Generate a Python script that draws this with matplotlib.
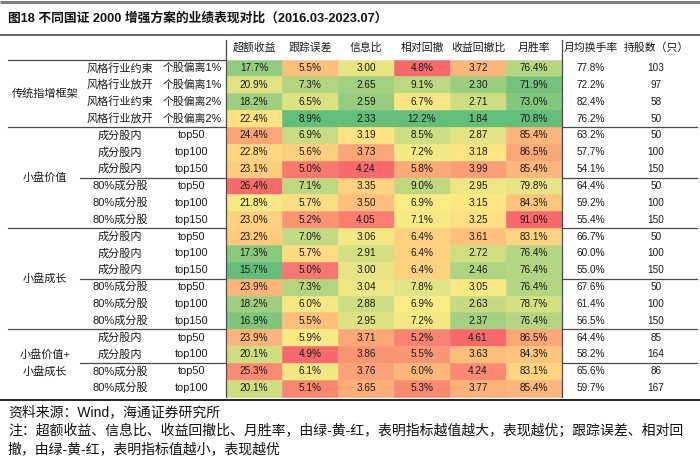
import numpy as np
import matplotlib
matplotlib.use("Agg")
import matplotlib.pyplot as plt
from matplotlib.colors import LinearSegmentedColormap, TwoSlopeNorm
from matplotlib.patches import Rectangle

plt.rcParams['font.family'] = ['Liberation Sans', 'Noto Sans CJK SC', 'DejaVu Sans']

title = "图18 不同国证 2000 增强方案的业绩表现对比（2016.03-2023.07）"
metric_headers = ["超额收益", "跟踪误差", "信息比", "相对回撤", "收益回撤比", "月胜率"]
extra_headers = ["月均换手率", "持股数（只）"]

groups = ["传统指增框架", "小盘价值", "小盘成长", "小盘价值+\n小盘成长"]
group_sizes = [4, 6, 6, 4]
subgroup_sizes = [[4], [3, 3], [3, 3], [2, 2]]

label1 = ["风格行业约束", "风格行业放开", "风格行业约束", "风格行业放开",
          "成分股内", "成分股内", "成分股内", "80%成分股", "80%成分股", "80%成分股",
          "成分股内", "成分股内", "成分股内", "80%成分股", "80%成分股", "80%成分股",
          "成分股内", "成分股内", "80%成分股", "80%成分股"]
label2 = ["个股偏离1%", "个股偏离1%", "个股偏离2%", "个股偏离2%",
          "top50", "top100", "top150", "top50", "top100", "top150",
          "top50", "top100", "top150", "top50", "top100", "top150",
          "top50", "top100", "top50", "top100"]

excess = [17.7, 20.9, 18.2, 22.4,
          24.4, 22.8, 23.1, 26.4, 21.8, 23.0,
          23.2, 17.3, 15.7, 23.9, 18.2, 16.9,
          23.9, 20.1, 25.3, 20.1]
tracking = [5.5, 7.3, 6.5, 8.9,
            6.9, 5.6, 5.0, 7.1, 5.7, 5.2,
            7.0, 5.7, 5.0, 7.3, 6.0, 5.5,
            5.9, 4.9, 6.1, 5.1]
info_ratio = [3.00, 2.65, 2.59, 2.33,
              3.19, 3.73, 4.24, 3.35, 3.50, 4.05,
              3.06, 2.91, 3.00, 3.04, 2.88, 2.95,
              3.71, 3.86, 3.76, 3.65]
drawdown = [4.8, 9.1, 6.7, 12.2,
            8.5, 7.2, 5.8, 9.0, 6.9, 7.1,
            6.4, 6.4, 6.4, 7.8, 6.9, 7.2,
            5.2, 5.5, 6.0, 5.3]
ret_dd = [3.72, 2.30, 2.71, 1.84,
          2.87, 3.18, 3.99, 2.95, 3.15, 3.25,
          3.61, 2.72, 2.46, 3.05, 2.63, 2.37,
          4.61, 3.63, 4.24, 3.77]
win_rate = [76.4, 71.9, 73.0, 70.8,
            85.4, 86.5, 85.4, 79.8, 84.3, 91.0,
            83.1, 76.4, 76.4, 76.4, 78.7, 76.4,
            86.5, 84.3, 83.1, 85.4]
turnover = [77.8, 72.2, 82.4, 76.2,
            63.2, 57.7, 54.1, 64.4, 59.2, 55.4,
            66.7, 60.0, 55.0, 67.6, 61.4, 56.5,
            64.4, 58.2, 65.6, 59.7]
holdings = [103, 97, 58, 50,
            50, 100, 150, 50, 100, 150,
            50, 100, 150, 50, 100, 150,
            85, 164, 86, 167]

source = "资料来源：Wind，海通证券研究所"
note1 = "注：超额收益、信息比、收益回撤比、月胜率，由绿-黄-红，表明指标越值越大，表现越优；跟踪误差、相对回"
note2 = "撤，由绿-黄-红，表明指标值越小，表现越优"

metrics = [excess, tracking, info_ratio, drawdown, ret_dd, win_rate]
fmts = ["{:.1f}%", "{:.1f}%", "{:.2f}", "{:.1f}%", "{:.2f}", "{:.1f}%"]
reverse = [False, True, False, True, False, False]

cmap = LinearSegmentedColormap.from_list("gyr", ["#63BE7B", "#FFEB84", "#F8696B"])
cmap_r = cmap.reversed()

W, H = 700, 472
fig = plt.figure(figsize=(W / 100, H / 100), dpi=100)
ax = fig.add_axes([0, 0, 1, 1])
ax.set_xlim(0, W)
ax.set_ylim(H, 0)
ax.axis("off")

cjk = ['Liberation Sans', 'Noto Sans CJK SC']
txt_col = "#1a1a1a"
line_col = "#4a4a4a"

# layout
y0 = 59.6
rh = 16.85
cx0 = 226.0
cw = 56.0
col1_x = 120
col2_x = 192
grp_x = 45
extra_x = [591, 656]
n = len(excess)
y_end = y0 + n * rh

# title + frame lines
ax.plot([0, W], [2, 2], color="#7f7f7f", lw=2.2, solid_capstyle="butt")
ax.text(8, 18.5, title, fontsize=9.2, fontweight="bold", va="center", ha="left",
        family=cjk, color="#111111")
ax.plot([0, W], [35, 35], color="#555555", lw=1.3, solid_capstyle="butt")

# headers
hy = 47.5
for j, h in enumerate(metric_headers):
    ax.text(cx0 + cw * (j + 0.5), hy, h, fontsize=7.8, ha="center", va="center",
            family=cjk, color=txt_col)
for x, h in zip(extra_x, extra_headers):
    ax.text(x, hy, h, fontsize=7.8, ha="center", va="center", family=cjk, color=txt_col)

# heat cells
for j, (vals, fmt, rev) in enumerate(zip(metrics, fmts, reverse)):
    arr = np.asarray(vals, dtype=float)
    norm = TwoSlopeNorm(vcenter=float(np.median(arr)), vmin=arr.min(), vmax=arr.max())
    cm = cmap_r if rev else cmap
    for i, v in enumerate(arr):
        c = cm(norm(v))
        ax.add_patch(Rectangle((cx0 + cw * j, y0 + rh * i), cw, rh, facecolor=c,
                               edgecolor=c, lw=0.4))
        ax.text(cx0 + cw * (j + 0.5), y0 + rh * (i + 0.5), fmt.format(v), fontsize=7.2,
                ha="center", va="center", color=txt_col)

# extra columns and row labels
for i in range(n):
    yc = y0 + rh * (i + 0.5)
    ax.text(extra_x[0], yc, "{:.1f}%".format(turnover[i]), fontsize=7.2, ha="center",
            va="center", color=txt_col)
    ax.text(extra_x[1], yc, str(holdings[i]), fontsize=7.2, ha="center", va="center",
            color=txt_col)
    ax.text(col1_x, yc, label1[i], fontsize=8, ha="center", va="center", family=cjk,
            color=txt_col)
    ax.text(col2_x, yc, label2[i], fontsize=7.8, ha="center", va="center", family=cjk,
            color=txt_col)

# group labels and separators
x_right = cx0 + cw * len(metrics)
start = 0
for g, gs, subs in zip(groups, group_sizes, subgroup_sizes):
    yc = y0 + rh * (start + gs / 2)
    ax.text(grp_x, yc, g, fontsize=8, ha="center", va="center", family=cjk,
            color=txt_col, linespacing=1.6)
    s = start
    for k, ss in enumerate(subs[:-1]):
        s += ss
        ys = y0 + rh * s
        ax.plot([80, cx0], [ys, ys], color=line_col, lw=0.9)
        ax.plot([x_right, 697], [ys, ys], color=line_col, lw=0.9)
    start += gs
    if start < n:
        ys = y0 + rh * start
        ax.plot([8, cx0], [ys, ys], color=line_col, lw=0.9)
        ax.plot([x_right, 697], [ys, ys], color=line_col, lw=0.9)

# header line
ax.plot([8, cx0], [y0, y0], color=line_col, lw=0.9)

# verticals
ax.plot([cx0, cx0], [40, y_end], color=line_col, lw=0.9)
ax.plot([x_right, x_right], [40, y_end], color=line_col, lw=0.9)

# bottom line
ax.plot([0, W], [y_end + 3, y_end + 3], color="#222222", lw=1.4, solid_capstyle="butt")

# notes
ax.text(8, 412, source, fontsize=10, ha="left", va="center", family=cjk, color="#111111")
ax.text(8, 431, note1, fontsize=10, ha="left", va="center", family=cjk, color="#111111")
ax.text(8, 449.5, note2, fontsize=10, ha="left", va="center", family=cjk, color="#111111")

fig.savefig("out.png", dpi=100)
